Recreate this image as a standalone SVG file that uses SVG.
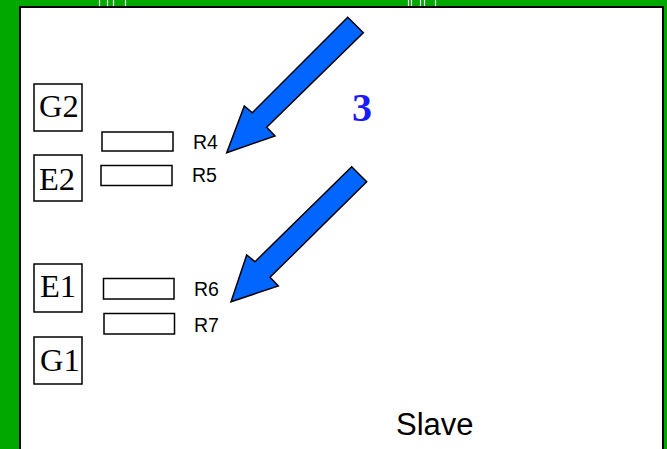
<svg xmlns="http://www.w3.org/2000/svg" width="667" height="449" viewBox="0 0 667 449">
<style>
.box{fill:#fff;stroke:#000;stroke-width:1.5}
.res{fill:#fff;stroke:#000;stroke-width:1.5}
.lbl{font-family:"Liberation Serif","Times New Roman",serif;font-size:32.5px;fill:#000}
.rl{font-family:"Liberation Sans",Arial,sans-serif;font-size:19.5px;fill:#000}
.arrow{fill:#0066ff;stroke:#000;stroke-width:1.5;stroke-linejoin:miter}
.tick{stroke:#fff;stroke-width:1.2}
</style>
<rect x="0" y="0" width="667" height="449" fill="#00a800"/>
<g id="ticks">
<line class="tick" x1="99.5" y1="0" x2="99.5" y2="6"/>
<line class="tick" x1="107.5" y1="0" x2="107.5" y2="6"/>
<line class="tick" x1="113.5" y1="0" x2="113.5" y2="6"/>
<line class="tick" x1="125.5" y1="0" x2="125.5" y2="6"/>
<line class="tick" x1="408.5" y1="0" x2="408.5" y2="6"/>
<line class="tick" x1="411.5" y1="0" x2="411.5" y2="6"/>
<line class="tick" x1="420.5" y1="0" x2="420.5" y2="6"/>
<line class="tick" x1="424.5" y1="0" x2="424.5" y2="6"/>
<line class="tick" x1="435.5" y1="0" x2="435.5" y2="6"/>
</g>
<rect id="panel" x="20" y="7" width="643" height="460" fill="#fff" stroke="#000" stroke-width="2"/>
<g id="G2"><rect class="box" x="34" y="84" width="48" height="47"/><text class="lbl" x="39" y="117">G2</text></g>
<g id="E2"><rect class="box" x="34" y="155" width="48" height="46"/><text class="lbl" x="39" y="190">E2</text></g>
<g id="E1"><rect class="box" x="34" y="264" width="48" height="48"/><text class="lbl" x="40" y="297">E1</text></g>
<g id="G1"><rect class="box" x="34" y="337" width="48" height="47"/><text class="lbl" x="40" y="371">G1</text></g>
<g id="R4"><rect class="res" x="102" y="132" width="71" height="19"/><text class="rl" x="193" y="149">R4</text></g>
<g id="R5"><rect class="res" x="101" y="165.5" width="71" height="20"/><text class="rl" x="192" y="182">R5</text></g>
<g id="R6"><rect class="res" x="103.5" y="278.5" width="70.5" height="20.5"/><text class="rl" x="194" y="296">R6</text></g>
<g id="R7"><rect class="res" x="104" y="313.5" width="70.5" height="20.5"/><text class="rl" x="194" y="332">R7</text></g>
<g id="connectors">
<polygon class="arrow" points="347.7,17.3 363.3,32.7 266.7,127.3 275,136 226.7,152.7 244.3,106 252.3,112.7"/>
<polygon class="arrow" points="351.7,166.7 366.7,181.7 270,277.3 278.3,286 231,301.7 246.7,255 255,261.7"/>
</g>
<text x="352" y="121" font-family="Liberation Serif,'Times New Roman',serif" font-weight="bold" font-size="40" fill="#1a1aff">3</text>
<text x="396" y="435" font-family="Liberation Sans,Arial,sans-serif" font-size="31" fill="#000">Slave</text>
</svg>
